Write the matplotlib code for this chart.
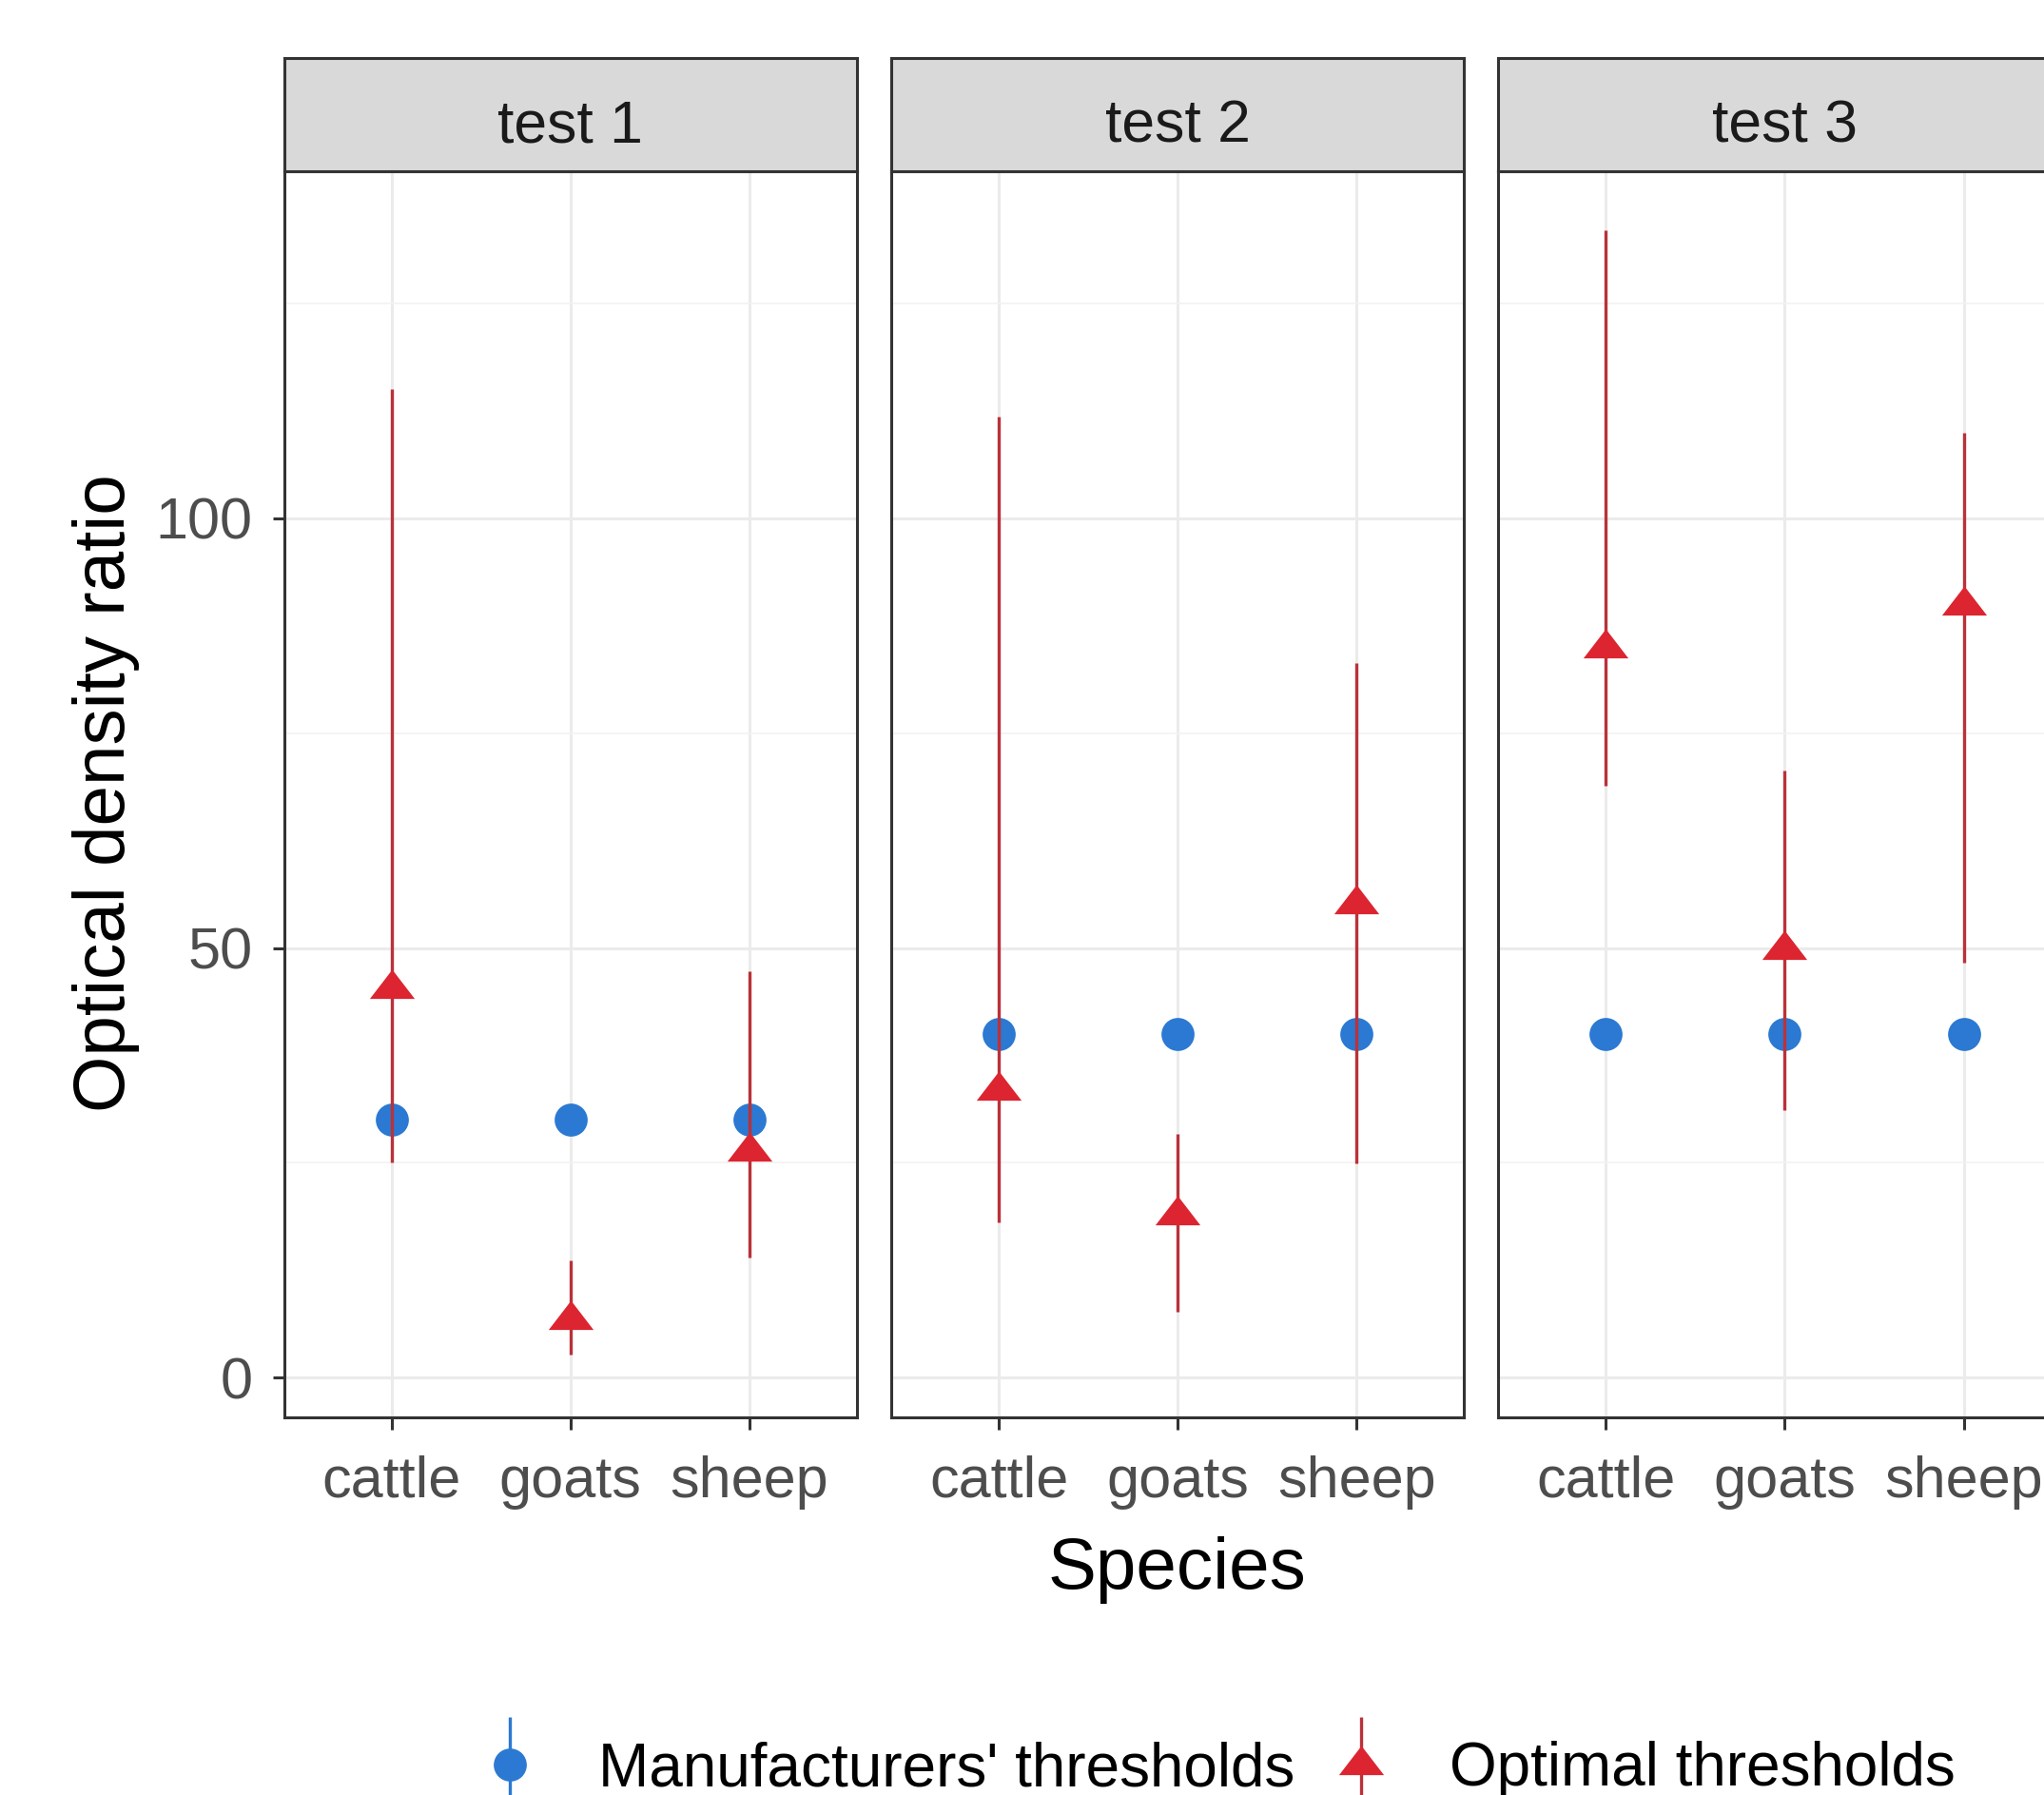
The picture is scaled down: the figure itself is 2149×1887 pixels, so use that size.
import matplotlib.pyplot as plt
from matplotlib.legend_handler import HandlerErrorbar
from matplotlib.container import ErrorbarContainer
from matplotlib.collections import LineCollection
from matplotlib.lines import Line2D

plt.rcParams['font.family'] = ['Liberation Sans', 'DejaVu Sans']

# Dados
especies = ['cattle', 'goats', 'sheep']
testes = ['test 1', 'test 2', 'test 3']

# Limiares do fabricante (sem intervalo)
fabricante = [[30, 30, 30], [40, 40, 40], [40, 40, 40]]

# Limiares ótimos e seus intervalos
otimo = [[45.3, 6.8, 26.4], [33.5, 19.0, 55.1], [84.9, 49.8, 89.9]]
otimo_inf = [[25.0, 2.7, 14.0], [18.1, 7.7, 24.9], [68.9, 31.1, 48.3]]
otimo_sup = [[115.1, 13.6, 47.3], [111.8, 28.4, 83.2], [133.5, 70.7, 110.0]]

AZUL = '#2B79D2'
VERMELHO = '#DC2530'
LINHA_VERM = '#B9323A'
CINZA_BORDA = '#333333'

# Triângulo mais achatado, como o shape 17 do ggplot na imagem
TRIANGULO = [(-1, -0.45), (1, -0.45), (0, 0.85), (-1, -0.45)]


def main():
    W, H = 2149, 1887
    fig = plt.figure(figsize=(W / 100, H / 100), dpi=100)
    fig.patch.set_facecolor('white')

    # posições em pixels (o terceiro painel passa da borda, como no original)
    esquerdas = [298.8, 937.2, 1575.5]
    largura = 602
    topo_painel = 180
    base_painel = 1489.7
    topo_faixa = 60.6

    x = list(range(1, len(especies) + 1))

    for i, teste in enumerate(testes):
        ax = fig.add_axes([esquerdas[i] / W, 1 - base_painel / H,
                           largura / W, (base_painel - topo_painel) / H])
        ax.set_xlim(0.4, 3.6)
        ax.set_ylim(-4.6, 140.4)

        # grade estilo theme_bw
        ax.set_yticks([0, 50, 100])
        ax.set_yticks([25, 75, 125], minor=True)
        ax.set_xticks(x)
        ax.set_xticklabels(especies)
        ax.grid(which='major', color='#EBEBEB', linewidth=2.2, zorder=0)
        ax.grid(which='minor', axis='y', color='#F2F2F2', linewidth=1.2, zorder=0)
        ax.set_axisbelow(True)
        ax.tick_params(axis='x', which='minor', bottom=False)
        ax.tick_params(axis='y', which='minor', left=False)

        for s in ax.spines.values():
            s.set_color(CINZA_BORDA)
            s.set_linewidth(2.2)
        ax.tick_params(which='major', length=9, width=2.2, color=CINZA_BORDA,
                       labelcolor='#4D4D4D', labelsize=44)
        ax.tick_params(axis='x', pad=20)
        ax.tick_params(axis='y', pad=15)
        if i > 0:
            ax.tick_params(axis='y', left=False, labelleft=False)

        # Limiares do fabricante
        ax.plot(x, fabricante[i], linestyle='none', marker='o', color=AZUL,
                markersize=25, markeredgewidth=0, zorder=3)

        # Limiares ótimos
        opt = otimo[i]
        baixo = [o - l for o, l in zip(opt, otimo_inf[i])]
        alto = [h - o for o, h in zip(opt, otimo_sup[i])]
        ax.errorbar(x, opt, yerr=[baixo, alto], fmt='none', ecolor=LINHA_VERM,
                    elinewidth=2.4, zorder=4)
        ax.plot(x, opt, linestyle='none', marker=TRIANGULO, markersize=34,
                color=VERMELHO, markeredgewidth=0, zorder=5)

        # Faixa do título do painel
        fx = fig.add_axes([esquerdas[i] / W, 1 - topo_painel / H,
                           largura / W, (topo_painel - topo_faixa) / H])
        fx.set_facecolor('#D9D9D9')
        fx.set_xticks([])
        fx.set_yticks([])
        for s in fx.spines.values():
            s.set_color(CINZA_BORDA)
            s.set_linewidth(2.2)
        fx.text(0.5, 0.39, teste, ha='center', va='center', fontsize=45,
                color='#1A1A1A', transform=fx.transAxes)

    # Títulos dos eixos
    fig.text(112 / W, 1 - 834 / H, 'Optical density ratio', rotation=90,
             ha='center', va='center', fontsize=55, color='black')
    fig.text(1237 / W, 1 - 1670 / H, 'Species', ha='center', va='baseline',
             fontsize=55, color='black')

    # Legenda embaixo: pontos com barra vertical
    k1 = Line2D([], [], linestyle='none', marker='o', color=AZUL, markersize=25,
                markeredgewidth=0)
    k2 = Line2D([], [], linestyle='none', marker=TRIANGULO, color=VERMELHO,
                markersize=34, markeredgewidth=0)
    b1 = LineCollection([], colors=AZUL, linewidths=2.4)
    b2 = LineCollection([], colors=LINHA_VERM, linewidths=2.4)
    c1 = ErrorbarContainer((k1, (), (b1,)), has_xerr=False, has_yerr=True)
    c2 = ErrorbarContainer((k2, (), (b2,)), has_xerr=False, has_yerr=True)
    fig.legend([c1, c2], ["Manufacturers' thresholds", 'Optimal thresholds'],
               loc='center', bbox_to_anchor=(1280 / W, 1 - 1860 / H), ncol=2,
               frameon=False, fontsize=46, handlelength=1.0, handletextpad=0.95,
               columnspacing=0.6,
               handler_map={ErrorbarContainer: HandlerErrorbar(yerr_size=0.78)})

    fig.savefig('out.png', dpi=100, facecolor='white')


if __name__ == '__main__':
    main()
